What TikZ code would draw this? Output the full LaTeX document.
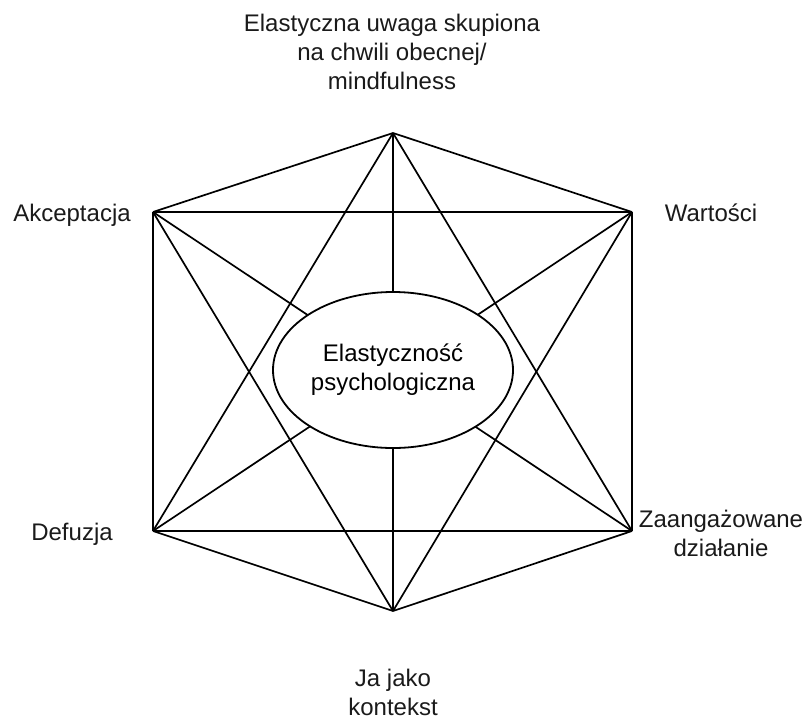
\documentclass[tikz,border=0pt]{standalone}
\usepackage{fontspec}
\setmainfont{Liberation Sans}
\usepackage{tikz}
\usetikzlibrary{shapes.geometric}
\definecolor{ink}{HTML}{1A1A1A}

\begin{document}
\begin{tikzpicture}[x=0.5pt,y=-0.5pt,font=\fontsize{12}{14.5}\selectfont,
 label/.style={inner sep=0pt,align=center,text=ink},
 link/.style={draw=black,line width=0.85pt},
 core/.style={ellipse,draw=black,line width=0.9pt,fill=white,align=center,inner sep=0pt,
   minimum width=120pt,minimum height=78pt}]
\useasboundingbox (0,0) rectangle (808,718);
% corners of the hexaflex
\coordinate (top) at (393,133);
\coordinate (ul) at (153,212);
\coordinate (ur) at (632,212);
\coordinate (ll) at (153,531);
\coordinate (lr) at (632,531);
\coordinate (bot) at (393,611);
% outer hexagon
\draw[link] (top) -- (ul);
\draw[link] (top) -- (ur);
\draw[link] (ul) -- (ll);
\draw[link] (ur) -- (lr);
\draw[link] (ll) -- (bot);
\draw[link] (lr) -- (bot);
% cross lines
\draw[link] (ul) -- (ur);
\draw[link] (ll) -- (lr);
\draw[link] (top) -- (ll);
\draw[link] (top) -- (lr);
\draw[link] (bot) -- (ul);
\draw[link] (bot) -- (ur);
\draw[link] (ul) -- (lr);
\draw[link] (ur) -- (ll);
\draw[link] (top) -- (bot);
% centre
\node[core] (flex) at (393,370) {Elastyczność\\psychologiczna};
% labels
\node[label] (uwaga) at (392,52) {Elastyczna uwaga skupiona\\na chwili obecnej/\\mindfulness};
\node[label] (akc) at (72,215) {Akceptacja};
\node[label] (wart) at (711,213) {Wartości};
\node[label] (def) at (72,534) {Defuzja};
\node[label] (dzial) at (721,533) {Zaangażowane\\działanie};
\node[label] (ja) at (393,692) {Ja jako\\kontekst};
\end{tikzpicture}
\end{document}
